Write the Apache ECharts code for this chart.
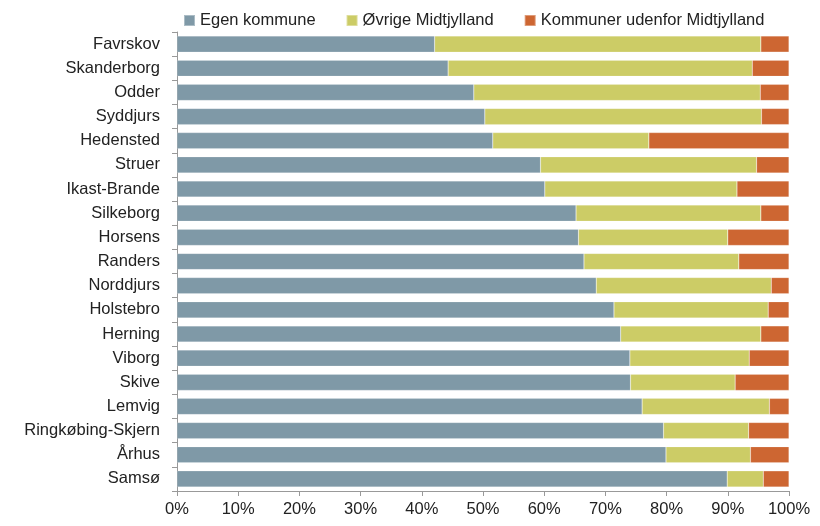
<!DOCTYPE html>
<html>
<head>
<meta charset="utf-8">
<script src="https://cdn.jsdelivr.net/npm/echarts@6/dist/echarts.min.js"></script>
<style>
  html, body { margin: 0; padding: 0; background: #fff; }
  #main { width: 820px; height: 526px; }
</style>
</head>
<body>
<div id="main"></div>
<script>
// kommuner, øverst først
const kommuner = ['Favrskov', 'Skanderborg', 'Odder', 'Syddjurs', 'Hedensted', 'Struer',
  'Ikast-Brande', 'Silkeborg', 'Horsens', 'Randers', 'Norddjurs', 'Holstebro', 'Herning',
  'Viborg', 'Skive', 'Lemvig', 'Ringkøbing-Skjern', 'Århus', 'Samsø'];

// andele i procent
const egenKommune = [42.1, 44.3, 48.5, 50.3, 51.6, 59.4, 60.1, 65.2, 65.6, 66.5, 68.5, 71.4, 72.5, 74.0, 74.1, 76.0, 79.5, 79.9, 89.9];
const oevrigeMidtjylland = [53.3, 49.7, 46.8, 45.2, 25.5, 35.3, 31.4, 30.2, 24.4, 25.3, 28.6, 25.2, 22.9, 19.5, 17.1, 20.8, 13.9, 13.8, 5.9];
const udenforMidtjylland = [4.6, 6.0, 4.7, 4.5, 22.9, 5.3, 8.5, 4.6, 10.0, 8.2, 2.9, 3.4, 4.6, 6.5, 8.8, 3.2, 6.6, 6.3, 4.2];

const seriesNames = ['Egen kommune', 'Øvrige Midtjylland', 'Kommuner udenfor Midtjylland'];
const colors = ['#7f99a7', '#cccc66', '#cd6632'];

const font = 'Liberation Sans';
const chart = echarts.init(document.getElementById('main'));

function bar(name, data) {
  return {
    name: name,
    type: 'bar',
    stack: 'total',
    barCategoryGap: '33%',
    data: data,
    itemStyle: { borderColor: 'rgba(255,255,255,0.35)', borderWidth: 0.5 }
  };
}

chart.setOption({
  color: colors,
  animation: false,
  textStyle: { fontFamily: font },
  legend: {
    top: 7,
    left: 178,
    itemWidth: 11,
    itemHeight: 11,
    itemGap: 30,
    icon: 'rect',
    textStyle: { fontSize: 16.5, color: '#222', fontFamily: font },
    data: seriesNames
  },
  grid: { left: 177, right: 31, top: 32, bottom: 35 },
  xAxis: {
    type: 'value',
    min: 0,
    max: 100,
    interval: 10,
    axisLine: { show: true, lineStyle: { color: '#999' } },
    axisTick: { show: true, length: 5, lineStyle: { color: '#999' } },
    splitLine: { show: false },
    axisLabel: { formatter: '{value}%', fontSize: 16.5, color: '#222', margin: 10 }
  },
  yAxis: {
    type: 'category',
    data: kommuner,
    inverse: true,
    axisLine: { show: true, lineStyle: { color: '#999' } },
    axisTick: { show: true, length: 5, lineStyle: { color: '#999' } },
    axisLabel: { fontSize: 16.5, color: '#222', margin: 17 }
  },
  series: [
    bar(seriesNames[0], egenKommune),
    bar(seriesNames[1], oevrigeMidtjylland),
    bar(seriesNames[2], udenforMidtjylland)
  ]
});
</script>
</body>
</html>
